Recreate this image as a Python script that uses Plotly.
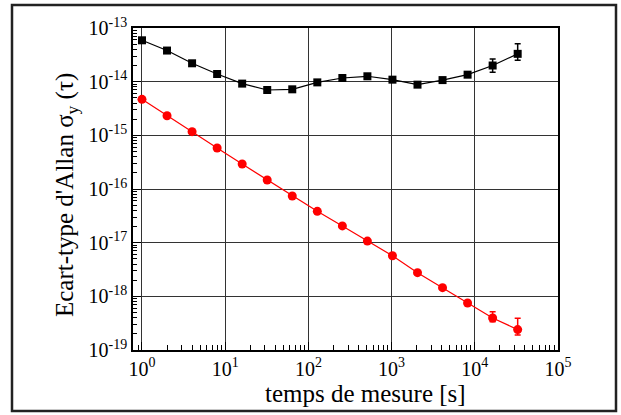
import plotly.graph_objects as go

tau = [1, 2, 4, 8, 16, 32, 64, 128, 256, 512, 1024, 2048, 4096, 8192, 16384, 32768]

black_vals = [5.9e-14, 3.8e-14, 2.2e-14, 1.39e-14, 9.2e-15, 7.0e-15, 7.2e-15, 9.7e-15,
              1.17e-14, 1.26e-14, 1.09e-14, 8.8e-15, 1.07e-14, 1.35e-14, 2.0e-14, 3.3e-14]
black_err_plus = [0, 0, 0, 0, 0, 0, 0, 0, 0, 0, 0, 0, 0, 0, 0.65e-14, 1.8e-14]
black_err_minus = [0, 0, 0, 0, 0, 0, 0, 0, 0, 0, 0, 0, 0, 0, 0.5e-14, 0.8e-14]

red_vals = [4.69e-15, 2.32e-15, 1.17e-15, 5.8e-16, 2.92e-16, 1.47e-16, 7.4e-17, 3.84e-17,
            2.05e-17, 1.07e-17, 5.7e-18, 2.76e-18, 1.45e-18, 7.5e-19, 3.95e-19, 2.4e-19]
red_err_plus = [0, 0, 0, 0, 0, 0, 0, 0, 0, 0, 0, 0, 0, 0, 1.2e-19, 1.5e-19]
red_err_minus = [0, 0, 0, 0, 0, 0, 0, 0, 0, 0, 0, 0, 0, 0, 0.6e-19, 0.5e-19]

x_tickvals = [1, 10, 100, 1000, 10000, 100000]
x_ticktext = ["10<sup>0</sup>", "10<sup>1</sup>", "10<sup>2</sup>", "10<sup>3</sup>",
              "10<sup>4</sup>", "10<sup>5</sup>"]
y_tickvals = [1e-19, 1e-18, 1e-17, 1e-16, 1e-15, 1e-14, 1e-13]
y_ticktext = ["10<sup>-19</sup>", "10<sup>-18</sup>", "10<sup>-17</sup>", "10<sup>-16</sup>",
              "10<sup>-15</sup>", "10<sup>-14</sup>", "10<sup>-13</sup>"]

x_minor = [m * 10 ** k for k in range(-1, 5) for m in range(2, 10)]
y_minor = [m * 10.0 ** k for k in range(-20, -13) for m in range(2, 10)]

FONT = "Liberation Serif"

fig = go.Figure()
fig.add_trace(go.Scatter(
    x=tau, y=black_vals, mode="lines+markers",
    line=dict(color="black", width=1.2),
    marker=dict(symbol="square", size=8, color="black"),
    error_y=dict(type="data", symmetric=False, array=black_err_plus,
                 arrayminus=black_err_minus, color="black", thickness=1.5, width=3),
    showlegend=False,
))
fig.add_trace(go.Scatter(
    x=tau, y=red_vals, mode="lines+markers",
    line=dict(color="red", width=1.2),
    marker=dict(symbol="circle", size=9, color="red"),
    error_y=dict(type="data", symmetric=False, array=red_err_plus,
                 arrayminus=red_err_minus, color="red", thickness=1.5, width=3),
    showlegend=False,
))

L, R, T, B = 133, 63, 28, 65
W, H = 621, 415
pw, ph = W - L - R, H - T - B

fig.update_layout(
    width=W, height=H,
    margin=dict(l=L, r=R, t=T, b=B),
    paper_bgcolor="white", plot_bgcolor="white",
    font=dict(family=FONT, color="black", size=20),
    xaxis=dict(
        type="log", range=[-0.108, 5],
        tickmode="array", tickvals=x_tickvals, ticktext=x_ticktext,
        ticks="inside", ticklen=8, tickwidth=1, tickcolor="black",
        showline=True, linecolor="black", linewidth=1.5, mirror=True,
        showgrid=True, gridcolor="#333", gridwidth=1,
        zeroline=False,
        tickfont=dict(family=FONT, size=20),
        minor=dict(tickmode="array", tickvals=x_minor, ticks="inside",
                   ticklen=5, tickwidth=1, tickcolor="black", showgrid=False),
    ),
    yaxis=dict(
        type="log", range=[-19, -13],
        tickmode="array", tickvals=y_tickvals, ticktext=y_ticktext,
        ticks="inside", ticklen=8, tickwidth=1, tickcolor="black",
        showline=True, linecolor="black", linewidth=1.5, mirror=True,
        showgrid=True, gridcolor="#333", gridwidth=1,
        zeroline=False,
        tickfont=dict(family=FONT, size=20),
        minor=dict(tickmode="array", tickvals=y_minor, ticks="inside",
                   ticklen=4, tickwidth=1, tickcolor="black", showgrid=False),
    ),
    annotations=[
        dict(text="temps de mesure [s]", xref="paper", yref="paper",
             x=0.5 + (365 - (L + pw / 2)) / pw, y=-(393 - (T + ph)) / ph,
             xanchor="center", yanchor="middle", showarrow=False,
             font=dict(family=FONT, size=25)),
        dict(text="Ecart-type d'Allan σ<sub>y</sub> (τ)", xref="paper", yref="paper",
             x=-(L - 66) / pw, y=1 - (195 - T) / ph, textangle=-90,
             xanchor="center", yanchor="middle", showarrow=False,
             font=dict(family=FONT, size=25)),
    ],
    shapes=[
        dict(type="rect", xref="paper", yref="paper",
             x0=(12 - L) / pw, x1=(616 - L) / pw,
             y0=1 - (411 - T) / ph, y1=1 - (5 - T) / ph,
             line=dict(color="#222", width=2.5), layer="above"),
    ],
)

fig.write_html("out.html")
